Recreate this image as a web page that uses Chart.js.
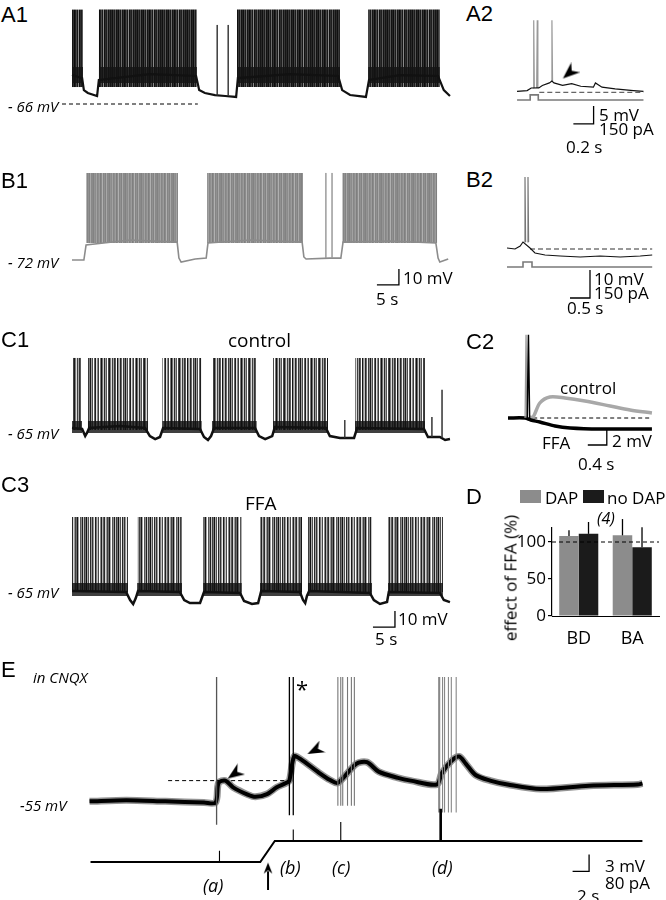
<!DOCTYPE html>
<html>
<head>
<meta charset="utf-8">
<title>FFA and bursting</title>
<script src="https://cdn.jsdelivr.net/npm/chart.js@4.4.1/dist/chart.umd.min.js"></script>
<style>
  body { margin: 0; background: #fff; }
  #fig { position: relative; width: 666px; height: 900px; overflow: hidden; font-family: "Open Sans", sans-serif; color: #000; }
  #fig canvas { position: absolute; }
  .t { position: absolute; white-space: nowrap; line-height: 1; transform: translateY(-50%); font-size: 17px; z-index: 2; }
  .p { font-family: "Liberation Sans", Arial, sans-serif; font-size: 22px; }
  .i { font-style: italic; font-size: 15px; }
  .l { font-style: italic; font-size: 18px; }
  .sq { position: absolute; width: 21px; height: 13px; z-index: 2; }
</style>
</head>
<body>
<div id="fig">
  <div class="t p" style="left:1px;top:15px">A1</div>
  <div class="t p" style="left:466px;top:14px">A2</div>
  <div class="t i" style="left:8px;top:106px">- 66 mV</div>
  <div class="t" style="left:599px;top:114px">5 mV</div>
  <div class="t" style="left:599px;top:128px">150 pA</div>
  <div class="t" style="left:566px;top:146px">0.2 s</div>

  <div class="t p" style="left:1px;top:181px">B1</div>
  <div class="t p" style="left:466px;top:180px">B2</div>
  <div class="t i" style="left:8px;top:262px">- 72 mV</div>
  <div class="t" style="left:403px;top:277px">10 mV</div>
  <div class="t" style="left:376px;top:298px">5 s</div>
  <div class="t" style="left:594px;top:278px">10 mV</div>
  <div class="t" style="left:594px;top:292px">150 pA</div>
  <div class="t" style="left:567px;top:307px">0.5 s</div>

  <div class="t p" style="left:1px;top:340px">C1</div>
  <div class="t" style="left:228px;top:340px;font-size:19px">control</div>
  <div class="t p" style="left:466px;top:342px">C2</div>
  <div class="t i" style="left:8px;top:433px">- 65 mV</div>
  <div class="t" style="left:560px;top:387px">control</div>
  <div class="t" style="left:542px;top:442px">FFA</div>
  <div class="t" style="left:612px;top:440px">2 mV</div>
  <div class="t" style="left:578px;top:463px">0.4 s</div>

  <div class="t p" style="left:1px;top:485px">C3</div>
  <div class="t" style="left:245px;top:503px;font-size:19px">FFA</div>
  <div class="t i" style="left:8px;top:592px">- 65 mV</div>
  <div class="t" style="left:398px;top:618px">10 mV</div>
  <div class="t" style="left:375px;top:638px">5 s</div>

  <div class="t p" style="left:466px;top:497px">D</div>
  <div class="sq" style="left:520px;top:490px;background:#8c8c8c"></div>
  <div class="t" style="left:545px;top:497px">DAP</div>
  <div class="sq" style="left:583px;top:490px;background:#1b1b1b"></div>
  <div class="t" style="left:607px;top:497px">no DAP</div>
  <div class="t" style="left:597px;top:518px;font-style:italic;font-size:16px">(4)</div>
  <div class="t" style="left:510px;top:578px;transform:translate(-50%,-50%) rotate(-90deg)">effect of FFA (%)</div>

  <div class="t p" style="left:1px;top:670px">E</div>
  <div class="t i" style="left:33px;top:677px">in CNQX</div>
  <div class="t i" style="left:20px;top:805px">-55 mV</div>
  <div class="t" style="left:296px;top:688px;font-size:22px">*</div>
  <div class="t l" style="left:203px;top:885px">(a)</div>
  <div class="t l" style="left:280px;top:867px">(b)</div>
  <div class="t l" style="left:332px;top:867px">(c)</div>
  <div class="t l" style="left:432px;top:867px">(d)</div>
  <div class="t" style="left:605px;top:865px">3 mV</div>
  <div class="t" style="left:605px;top:882px">80 pA</div>
  <div class="t" style="left:577px;top:895px">2 s</div>
</div>

<script>
// ---------- values (time in s, voltage in mV, current in pA) ----------

// A1 - bursting, control
const a1BurstStart = [0, 6.1, 37.5, 67.3];
const a1BurstEnd = [2.5, 28.4, 60.9, 83.6];
const a1SpikePeak = -7;
const a1PlateauLow = -55.4;
const a1BandHigh = -42.9;
const a1BandLow = -52.9;
const a1SlowT = [0, 2.3, 2.7, 3.6, 5.7, 6.1, 17.7, 28.2, 28.9, 30.2, 32.5, 34.8, 37.3, 37.7, 49.5, 60.5, 61.4, 63.2, 66.8, 67.5, 74.5, 83.2, 84.5, 85.9];
const a1SlowV = [-47.9, -49.8, -57.3, -59.1, -61, -51, -47.3, -48.5, -57.3, -59.1, -60.4, -61, -61.6, -49.8, -47.3, -48.5, -57.3, -60.4, -61.6, -51, -48, -48.5, -57.3, -61];
const a1LoneT = [33.0, 35.5];
const a1LonePeak = -16.6;
const a1LoneBase = -60.7;
const a1RestLevel = -66;

// A2 - single stimulus, DAP
const a2T = [0, 0.10, 0.14, 0.215, 0.25, 0.32, 0.345, 0.365, 0.45, 0.54, 0.63, 0.755, 0.775, 0.84, 0.97, 1.15, 1.25];
const a2V = [0.24, 0.48, 1.19, 1.2, 1.9, 2.6, 3.1, 2.6, 1.9, 2.4, 1.67, 1.43, 2.6, 1.43, 0.95, 0.48, 0.24];
const a2SpikeT = [0.165, 0.2, 0.345];
const a2SpikeBase = [1.2, 1.2, 3.1];
const a2SpikePeak = 20;
const a2StimT = [0, 0.13, 0.13, 0.21, 0.21, 1.25];
const a2StimI = [0, 0, 43, 43, 0, 0];

// B1 - bursting, grey cell
const b1BurstStart = [3.2, 30.7, 61.4];
const b1BurstEnd = [24.1, 52.5, 83.0];
const b1SpikePeak = -17.6;
const b1PlateauLow = -61.4;
const b1SlowT = [0, 2.7, 3.2, 13.2, 23.9, 24.3, 24.8, 28, 30.5, 30.9, 40.5, 52.3, 52.7, 53.2, 58.6, 61.1, 61.6, 72.3, 82.7, 83.2, 83.6, 85.5];
const b1SlowV = [-72, -72, -62.6, -59.5, -60.8, -70.8, -73.3, -71.4, -70.8, -61.4, -59.5, -60.8, -70.1, -71.4, -70.8, -70.8, -60.8, -60.1, -61.4, -70.8, -73.3, -71.4];
const b1LoneT = [57.7, 59.1];
const b1LoneBase = -70.8;

// B2 - single stimulus, no DAP
const b2T = [0, 0.2, 0.33, 0.4, 0.575, 0.7, 0.95, 1.33, 1.83, 2.33, 2.83, 3.33, 3.63];
const b2V = [0.36, 0, 1.07, 2.5, 0.36, -1.43, -2.14, -2.5, -2.86, -2.5, -2.86, -2.5, -2.14];
const b2SpikeT = [0.45, 0.525];
const b2SpikeBase = 2.5;
const b2SpikePeak = 25.7;
const b2StimT = [0, 0.4, 0.4, 0.625, 0.625, 3.63];
const b2StimI = [0, 0, 27, 27, 0, 0];

// C1 - control bursting
const c1BurstStart = [0, 3.6, 20.5, 31.8, 45.7, 64.3];
const c1BurstEnd = [2.3, 17.3, 29.5, 42.0, 58.2, 80.2];
const c1SpikePeak = -18.1;
const c1PlateauLow = -63.1;
const c1BandHigh = -57.5;
const c1BandLow = -65;
const c1SlowT = [0, 2.3, 3.0, 3.4, 3.9, 10.9, 16.6, 17.7, 18.9, 20, 20.7, 29.1, 30, 30.9, 31.6, 32.3, 41.6, 42.5, 43.9, 45.5, 46.1, 57.7, 58.6, 60.9, 64.1, 64.8, 80, 80.9, 83.6, 84.8, 85.9];
const c1SlowV = [-61.9, -62.5, -66.9, -65, -61.9, -60.6, -61.9, -66.9, -68.8, -67.5, -61.9, -62.5, -67.5, -69.4, -66.9, -61.9, -61.9, -66.9, -68.8, -66.9, -61.3, -61.9, -66.9, -68.1, -68.1, -61.9, -62.5, -67.5, -67.5, -69.4, -68.8];
const c1LoneT = [62.0, 81.8, 84.1];
const c1LoneBase = [-68, -67.5, -68];
const c1LonePeak = [-56.9, -55, -38];

// C2 - averaged DAP, control vs FFA (mV from baseline)
const c2FfaT = [0, 0.36, 0.48, 0.67, 0.99, 1.31, 1.94, 3.03];
const c2FfaV = [0, 0, -0.27, -0.53, -1.07, -1.33, -1.47, -1.47];
const c2CtrlT = [0.45, 0.53, 0.67, 0.88, 1.2, 1.62, 2.15, 2.57, 3.03];
const c2CtrlV = [0.1, 0.13, 2.0, 2.8, 2.67, 2.27, 1.6, 1.07, 0.67];
const c2SpikeCtrlT = [0.38];
const c2SpikeFfaT = [0.43];
const c2SpikePeak = 11.1;

// C3 - bursting in FFA
const c3BurstStart = [0, 14.8, 29.8, 42.7, 53.6, 71.8];
const c3BurstEnd = [12.7, 25, 38.6, 52.3, 68.2, 84.3];
const c3SpikePeak = -18.1;
const c3PlateauLow = -65;
const c3BandHigh = -59.4;
const c3BandLow = -67.5;
const c3SlowT = [0, 12.3, 13.2, 13.9, 14.5, 15, 24.5, 25.5, 26.8, 29.1, 30, 38.2, 39.1, 40.9, 42.3, 43, 51.8, 52.5, 53, 53.4, 53.9, 67.7, 68.6, 70, 71.6, 72, 83.6, 84.5, 85.9];
const c3SlowV = [-64.4, -65, -70, -72.5, -68.8, -64.4, -65, -70, -71.9, -71.9, -65, -65.6, -70.6, -72.5, -71.9, -64.4, -65, -70, -71.9, -67.5, -64.4, -65.6, -70, -72.5, -71.3, -65, -65.6, -70, -71.3];

// D - effect of FFA (%)
const dCats = ['BD', 'BA'];
const dDap = [108, 109];
const dDapErr = [8, 22];
const dNoDap = [111, 93];
const dNoDapErr = [16, 27];
const dTicks = [0, 50, 100];
const dRef = 100;

// E - in CNQX, ramp of current
const eTraceT = [0, 4.47, 9.18, 13.88, 15.29, 15.65, 16.47, 17.41, 19.18, 20.12, 21.53, 22.71, 23.88, 24.24, 24.82, 25.65, 27.65, 29.18, 30.12, 32.35, 33.65, 35.06, 37.41, 38.94, 42.12, 42.71, 43.88, 44.82, 45.65, 46.82, 48.59, 50.71, 54.71, 60.59, 66.47, 67.06];
const eTraceV = [-55, -54.8, -55, -55.2, -55.2, -51.7, -51.3, -52.5, -53.8, -54.2, -53.7, -52.5, -51.7, -51.3, -47, -47.5, -49.7, -51.2, -51.7, -48.3, -48, -49.7, -50.8, -51.3, -52, -50, -47.8, -47, -48.3, -50.3, -51.3, -52, -52.8, -52.2, -52, -51.8];
const eSpikeTop = -32.8;
const eSpikeA = [15.41];
const eSpikeB = [24.24, 24.71];
const eSpikeC = [30.12, 30.47, 30.71, 31.29, 31.76, 32.12];
const eSpikeD = [42.35, 42.47, 42.82, 43.06, 43.53, 43.88, 44.47];
const eBottom = { a: -59.2, b: -57.5, c: -55.8, d: -57 };
const eThreshold = -51.3;
const eStimT = [0.12, 20.71, 22.47, 67.06];
const eStimI = [0, 0, 100, 100];
const eMarkT = [15.76, 24.71, 30.47, 42.59];
const eMarkFrom = [0, 100, 100, 100];
const eMarkTo = [53, 155, 191, 253];

// ---------- layout: where each panel sits on the page ----------
const geo = {
  a1: { box: [60, 0, 400, 120], x0: 72, pxX: 4.4, y0: 104, ref: -66, pxY: 1.6 },
  a2: { box: [500, 0, 166, 140], x0: 508, pxX: 115, y0: 96, ref: 0, pxY: 4.2 },
  b1: { box: [60, 160, 400, 145], x0: 72, pxX: 4.4, y0: 260, ref: -72, pxY: 1.6 },
  b2: { box: [500, 160, 166, 155], x0: 507, pxX: 40, y0: 249, ref: 0, pxY: 2.8 },
  c1: { box: [60, 350, 400, 100], x0: 72, pxX: 4.4, y0: 433, ref: -65, pxY: 1.6 },
  c2: { box: [500, 320, 166, 135], x0: 508, pxX: 47.5, y0: 418, ref: 0, pxY: 7.5 },
  c3: { box: [60, 505, 400, 130], x0: 72, pxX: 4.4, y0: 592, ref: -65, pxY: 1.6 },
  e: { box: [0, 600, 666, 300], x0: 82, pxX: 8.5, y0: 805, ref: -55, pxY: 6 }
};
const geoI = {
  a2: { y0: 105, pxI: 21 / 150 },
  b2: { y0: 267, pxI: 28 / 150 },
  e: { y0: 870, pxI: 18 / 80 }
};

Chart.defaults.font.family = "'Open Sans', sans-serif";
const fig = document.getElementById('fig');

// ---------- helpers ----------
function xy(ts, vs) {
  return ts.map((t, i) => ({ x: t, y: vs[i] }));
}

function line(data, color, width, extra) {
  return Object.assign({ data, borderColor: color, borderWidth: width, pointRadius: 0, fill: false }, extra || {});
}

// one vertical stroke (or a narrow peak) per spike, broken by gaps
function spikes(ts, base, peak, half) {
  const w = half || 0;
  const out = [];
  ts.forEach((t, i) => {
    const b = Array.isArray(base) ? base[i] : base;
    const p = Array.isArray(peak) ? peak[i] : peak;
    out.push({ x: t - w, y: b }, { x: t, y: p }, { x: t + w, y: b }, { x: t, y: null });
  });
  return out;
}

// filled block for each burst, from low to high
function bursts(starts, ends, low, high, paint) {
  return starts.map((s, i) => ({
    data: [{ x: s, y: high }, { x: ends[i], y: high }],
    borderColor: 'rgba(0,0,0,0)', borderWidth: 1, pointRadius: 0,
    backgroundColor: paint, fill: { value: low }
  }));
}

// scale bar drawn in data units: dt to the left, dv upward from the corner
function scaleBar(cx, cy, dt, dv, axis) {
  return line([{ x: cx - dt, y: cy }, { x: cx, y: cy }, { x: cx, y: cy + dv }], '#000', 1.3, { yAxisID: axis || 'y' });
}

// notched arrowhead image, tip pointing to deg (0 = up, clockwise)
function arrowImage(deg, size) {
  const c = document.createElement('canvas');
  c.width = c.height = size * 2 + 2;
  const ctx = c.getContext('2d');
  ctx.translate(size + 1, size + 1);
  ctx.rotate(deg * Math.PI / 180);
  ctx.beginPath();
  ctx.moveTo(0, -size);
  ctx.lineTo(size * 0.72, size * 0.85);
  ctx.lineTo(0, size * 0.3);
  ctx.lineTo(-size * 0.72, size * 0.85);
  ctx.closePath();
  ctx.fillStyle = '#000';
  ctx.fill();
  return c;
}

function arrowHead(t, v, deg, size) {
  return { data: [{ x: t, y: v }], showLine: false, pointStyle: arrowImage(deg, size), pointRadius: size };
}

// striped paint that mimics densely packed spikes
function stripes(cols) {
  const c = document.createElement('canvas');
  c.width = cols.length;
  c.height = 4;
  const ctx = c.getContext('2d');
  cols.forEach((col, i) => {
    ctx.fillStyle = col;
    ctx.fillRect(i, 0, 1, 4);
  });
  return ctx.createPattern(c, 'repeat');
}

// layers are listed bottom to top
function traceChart(g, layers, gi) {
  const [left, top, w, h] = g.box;
  const cv = document.createElement('canvas');
  cv.width = w;
  cv.height = h;
  cv.style.left = left + 'px';
  cv.style.top = top + 'px';
  fig.appendChild(cv);
  const scales = {
    x: { type: 'linear', display: false, min: (left - g.x0) / g.pxX, max: (left + w - g.x0) / g.pxX },
    y: { type: 'linear', display: false, min: g.ref - (top + h - g.y0) / g.pxY, max: g.ref + (g.y0 - top) / g.pxY }
  };
  if (gi) {
    scales.y2 = { type: 'linear', display: false, min: -(top + h - gi.y0) / gi.pxI, max: (gi.y0 - top) / gi.pxI };
  }
  return new Chart(cv, {
    type: 'line',
    data: { datasets: layers.slice().reverse() },
    options: {
      responsive: false,
      animation: false,
      events: [],
      layout: { padding: 0 },
      plugins: { legend: { display: false }, tooltip: { enabled: false } },
      elements: { point: { radius: 0 }, line: { tension: 0 } },
      scales
    }
  });
}

// ---------- A1 ----------
const a1Paint = stripes(['#151515', '#2a2a2a', '#101010', '#3a3a3a', '#1c1c1c', '#555', '#121212', '#262626', '#0e0e0e', '#444', '#1a1a1a', '#6e6e6e', '#141414', '#303030', '#0c0c0c', '#222', '#4a4a4a', '#181818', '#8a8a8a', '#111', '#2e2e2e', '#1e1e1e', '#5c5c5c', '#131313', '#363636']);
traceChart(geo.a1, [
  ...bursts(a1BurstStart, a1BurstEnd, a1PlateauLow, a1SpikePeak, a1Paint),
  ...bursts(a1BurstStart, a1BurstEnd, a1BandLow, a1BandHigh, 'rgba(20,20,20,0.85)'),
  line(xy(a1SlowT, a1SlowV), '#111', 2.2),
  line(spikes(a1LoneT, a1LoneBase, a1LonePeak), '#333', 1),
  line([{ x: -2.27, y: a1RestLevel }, { x: 28.6, y: a1RestLevel }], '#000', 1, { borderDash: [4, 3] })
]);

// ---------- A2 ----------
traceChart(geo.a2, [
  line(xy(a2StimT, a2StimI), '#7a7a7a', 1.6, { yAxisID: 'y2' }),
  line([{ x: 0.22, y: 0 }, { x: 1.25, y: 0 }], '#666', 1.2, { borderDash: [5, 3] }),
  line(spikes(a2SpikeT, a2SpikeBase, a2SpikePeak, 0.006), '#999', 1.2),
  line(xy(a2T, a2V), '#111', 1.2),
  arrowHead(0.52, 5.5, 229, 9),
  scaleBar(0.757, -8.8, 0.2, 5)
], geoI.a2);

// ---------- B1 ----------
const b1Paint = stripes(['#8a8a8a', '#828282', '#939393', '#8c8c8c', '#a2a2a2', '#868686', '#8f8f8f', '#9c9c9c', '#7f7f7f', '#8b8b8b', '#b0b0b0', '#858585', '#919191', '#838383', '#a8a8a8', '#898989']);
traceChart(geo.b1, [
  ...bursts(b1BurstStart, b1BurstEnd, b1PlateauLow, b1SpikePeak, b1Paint),
  line(xy(b1SlowT, b1SlowV), '#8c8c8c', 1.6),
  line(spikes(b1LoneT, b1LoneBase, b1SpikePeak), '#9a9a9a', 1),
  scaleBar(74.3, -87.6, 5, 10)
]);

// ---------- B2 ----------
traceChart(geo.b2, [
  line(xy(b2StimT, b2StimI), '#7a7a7a', 1.6, { yAxisID: 'y2' }),
  line([{ x: 0.575, y: 0 }, { x: 3.63, y: 0 }], '#333', 1.1, { borderDash: [5, 3] }),
  line(spikes(b2SpikeT, b2SpikeBase, b2SpikePeak, 0.015), '#777', 1.2),
  line(xy(b2T, b2V), '#111', 1.1),
  scaleBar(2.075, -17.5, 0.5, 10)
], geoI.b2);

// ---------- C1 ----------
const c1Paint = stripes(['#1e1e1e', '#e8e8e8', '#8a8a8a', '#3c3c3c', '#ffffff', '#777777', '#111111', '#6e6e6e', '#cfcfcf', '#2b2b2b', '#9c9c9c', '#555555', '#ffffff', '#444444', '#1a1a1a', '#7c7c7c', '#dcdcdc', '#404040', '#a8a8a8', '#303030', '#5a5a5a', '#ffffff', '#141414', '#909090', '#bdbdbd', '#262626', '#6a6a6a', '#f0f0f0', '#3a3a3a', '#808080', '#1c1c1c', '#a0a0a0', '#4c4c4c', '#ffffff', '#666666']);
traceChart(geo.c1, [
  ...bursts(c1BurstStart, c1BurstEnd, c1PlateauLow, c1SpikePeak, c1Paint),
  ...bursts(c1BurstStart, c1BurstEnd, c1BandLow, c1BandHigh, 'rgba(15,15,15,0.8)'),
  line(xy(c1SlowT, c1SlowV), '#111', 2.5),
  line(spikes(c1LoneT, c1LoneBase, c1LonePeak), '#333', 1)
]);

// ---------- C2 ----------
traceChart(geo.c2, [
  line([{ x: 0.53, y: 0 }, { x: 3.03, y: 0 }], '#000', 1, { borderDash: [4, 3] }),
  line(xy(c2CtrlT, c2CtrlV), '#a8a8a8', 3.5, { tension: 0.3 }),
  line(xy(c2FfaT, c2FfaV), '#000', 3.5, { tension: 0.3 }),
  line(spikes(c2SpikeCtrlT, 0, c2SpikePeak, 0.02), '#999', 1.3),
  line(spikes(c2SpikeFfaT, 0, c2SpikePeak, 0.025), '#000', 1.5),
  scaleBar(2.08, -3.6, 0.4, 2)
]);

// ---------- C3 ----------
const c3Paint = stripes(['#333333', '#9a9a9a', '#ececec', '#1c1c1c', '#7a7a7a', '#c4c4c4', '#4a4a4a', '#ffffff', '#888888', '#222222', '#b4b4b4', '#5e5e5e', '#2a2a2a', '#d8d8d8', '#999999', '#404040', '#6c6c6c', '#161616', '#a4a4a4', '#ffffff', '#555555', '#8e8e8e', '#1f1f1f', '#c4c4c4', '#3c3c3c', '#767676', '#121212', '#acacac', '#505050', '#f4f4f4', '#282828', '#9e9e9e']);
traceChart(geo.c3, [
  ...bursts(c3BurstStart, c3BurstEnd, c3PlateauLow, c3SpikePeak, c3Paint),
  ...bursts(c3BurstStart, c3BurstEnd, c3BandLow, c3BandHigh, 'rgba(15,15,15,0.8)'),
  line(xy(c3SlowT, c3SlowV), '#111', 2.5),
  scaleBar(73.4, -86.9, 5, 10)
]);

// ---------- D ----------
const errorBars = {
  id: 'errorBars',
  afterDatasetsDraw(chart) {
    const ctx = chart.ctx;
    const y = chart.scales.y;
    chart.data.datasets.forEach((ds, i) => {
      chart.getDatasetMeta(i).data.forEach((bar, j) => {
        const top = y.getPixelForValue(ds.data[j] + ds.errUp[j]);
        ctx.save();
        ctx.strokeStyle = '#000';
        ctx.lineWidth = 1.3;
        ctx.beginPath();
        ctx.moveTo(bar.x, bar.y);
        ctx.lineTo(bar.x, top);
        ctx.stroke();
        ctx.restore();
      });
    });
    // 100 % reference line
    const yr = y.getPixelForValue(dRef);
    ctx.save();
    ctx.setLineDash([4, 3]);
    ctx.lineWidth = 1;
    ctx.strokeStyle = '#000';
    ctx.beginPath();
    ctx.moveTo(chart.chartArea.left, yr);
    ctx.lineTo(chart.chartArea.right, yr);
    ctx.stroke();
    ctx.restore();
  }
};

const dCanvas = document.createElement('canvas');
dCanvas.width = 166;
dCanvas.height = 135;
dCanvas.style.left = '500px';
dCanvas.style.top = '515px';
fig.appendChild(dCanvas);
new Chart(dCanvas, {
  type: 'bar',
  data: {
    labels: dCats,
    datasets: [
      { label: 'DAP', data: dDap, errUp: dDapErr, backgroundColor: '#8c8c8c', categoryPercentage: 0.73, barPercentage: 1 },
      { label: 'no DAP', data: dNoDap, errUp: dNoDapErr, backgroundColor: '#1b1b1b', categoryPercentage: 0.73, barPercentage: 1 }
    ]
  },
  options: {
    responsive: false,
    animation: false,
    events: [],
    layout: { padding: { top: 11, right: 7, left: 0, bottom: 0 } },
    plugins: { legend: { display: false }, tooltip: { enabled: false } },
    scales: {
      x: {
        grid: { display: false },
        border: { color: '#000', width: 1 },
        ticks: { color: '#000', font: { size: 18 }, padding: 4 },
        afterFit: (s) => { s.height = 34; }
      },
      y: {
        min: 0,
        max: 120,
        ticks: { stepSize: 50, includeBounds: false, autoSkip: false, color: '#000', font: { size: 17 }, padding: 2 },
        afterBuildTicks: (s) => { s.ticks = dTicks.map((v) => ({ value: v })); },
        grid: { drawOnChartArea: false, tickLength: 4, color: '#000', lineWidth: 1.2 },
        border: { color: '#000', width: 1.2 },
        afterFit: (s) => { s.width = 52; }
      }
    }
  },
  plugins: [errorBars]
});

// ---------- E ----------
traceChart(geo.e, [
  line(xy(eTraceT, eTraceV), 'rgba(60,60,60,0.55)', 7, { tension: 0.3 }),
  line(xy(eTraceT, eTraceV), '#000', 4, { tension: 0.3 }),
  line(spikes(eSpikeA, eBottom.a, eSpikeTop), '#555', 1.3),
  line(spikes(eSpikeB, eBottom.b, eSpikeTop), '#000', 1.3),
  line(spikes(eSpikeC, eBottom.c, eSpikeTop), '#777', 1.1),
  line(spikes(eSpikeD, eBottom.d, eSpikeTop), '#888', 1.1),
  line([{ x: 9.53, y: eThreshold }, { x: 24.12, y: eThreshold }], '#000', 1, { borderDash: [4, 3] }),
  line(xy(eStimT, eStimI), '#000', 2, { yAxisID: 'y2' }),
  line(spikes(eMarkT.slice(0, 3), eMarkFrom.slice(0, 3), eMarkTo.slice(0, 3)), '#000', 1.1, { yAxisID: 'y2' }),
  line(spikes(eMarkT.slice(3), eMarkFrom.slice(3), eMarkTo.slice(3)), '#000', 2.6, { yAxisID: 'y2' }),
  line([{ x: 21.65, y: -70.9 }, { x: 21.65, y: -67.5 }], '#000', 2),
  arrowHead(21.65, -67, 0, 6),
  arrowHead(17.65, -50, 235, 9),
  arrowHead(27.41, -45.83, 243, 9),
  scaleBar(60.59, -67.5, 2, 3)
], geoI.e);
</script>
</body>
</html>
